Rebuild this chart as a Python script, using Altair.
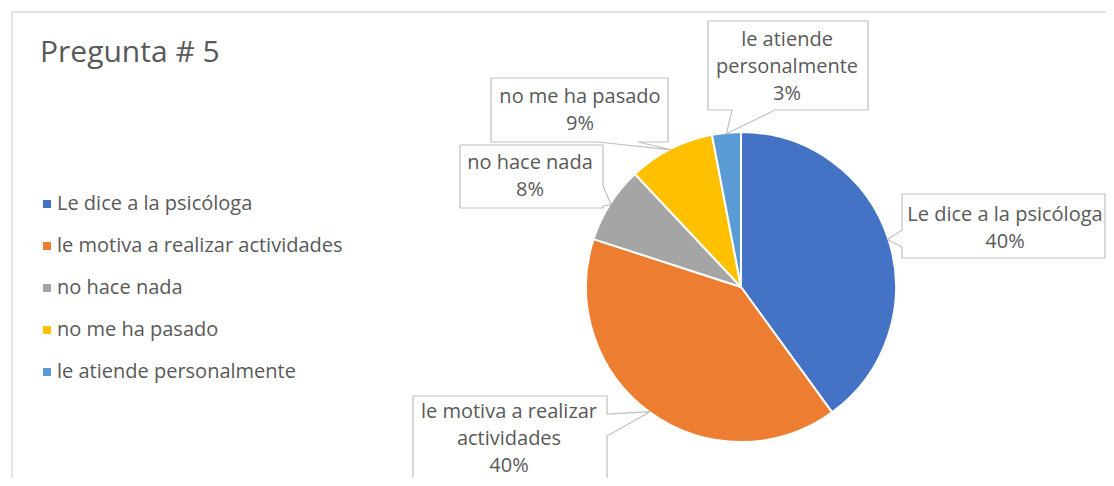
import altair as alt
import pandas as pd
import numpy as np

# ---- data ----
categories = [
    "Le dice a la psicóloga",
    "le motiva a realizar actividades",
    "no hace nada",
    "no me ha pasado",
    "le atiende personalmente",
]
values = [40, 40, 8, 9, 3]
label_text = [
    "Le dice a la psicóloga",
    "le motiva a realizar\nactividades",
    "no hace nada",
    "no me ha pasado",
    "le atiende\npersonalmente",
]
colors = ["#4472C4", "#ED7D31", "#A5A5A5", "#FFC000", "#5B9BD5"]

# ---- layout (chart pixel coords) ----
CX, CY, R = 733, 279, 155
FONT = "Open Sans"
TXT = "#595959"
# callout boxes: x0, x1, y0, y1, pointer side, base start, base end
boxes = [
    (894, 1097, 186, 250, "left", 222, 239),
    (405, 599, 388, 520, "right", 406, 428),
    (452, 595, 137, 200, "right", 178, 198),
    (483, 660, 70, 134, "bottom", 590, 630),
    (700, 860, 13, 102, "bottom", 724, 767),
]
# first-line centre of each callout text
text_pos = [(997, 207), (501, 404), (522, 155), (572, 89), (779, 32)]

df = pd.DataFrame({
    "cat": categories,
    "value": values,
    "order": list(range(len(categories))),
})

# callout label table
lab = pd.DataFrame({
    "cat": categories,
    "label": [f"{t}\n{v}%" for t, v in zip(label_text, values)],
    "lx": [p[0] for p in text_pos],
    "ly": [p[1] for p in text_pos],
})

# callout outlines, tip on the slice's mid-angle
total = sum(values)
cum = np.cumsum([0] + values)
rows = []
for i, (x0, x1, y0, y1, side, b1, b2) in enumerate(boxes):
    mid = (cum[i] + cum[i + 1]) / 2 / total * 2 * np.pi
    tx = CX + (R - 1) * np.sin(mid)
    ty = CY - (R - 1) * np.cos(mid)
    if side == "left":
        pts = [(x0, y0), (x1, y0), (x1, y1), (x0, y1), (x0, b2), (tx, ty), (x0, b1), (x0, y0)]
    elif side == "right":
        pts = [(x0, y0), (x1, y0), (x1, b1), (tx, ty), (x1, b2), (x1, y1), (x0, y1), (x0, y0)]
    else:
        pts = [(x0, y0), (x1, y0), (x1, y1), (b2, y1), (tx, ty), (b1, y1), (x0, y1), (x0, y0)]
    for k, (px, py) in enumerate(pts):
        rows.append({"cat": categories[i], "seq": k, "px": px, "py": py})
outline = pd.DataFrame(rows)

frame = alt.Chart(pd.DataFrame({"a": [0]})).mark_rect(
    fill="transparent", stroke="#D9D9D9", strokeWidth=1.5
).encode(x=alt.value(4), x2=alt.value(3000), y=alt.value(4), y2=alt.value(3000))

pie = alt.Chart(df).mark_arc(radius=R, stroke="white", strokeWidth=2).encode(
    theta=alt.Theta("value:Q", stack=True),
    color=alt.Color(
        "cat:N",
        scale=alt.Scale(domain=categories, range=colors),
        legend=alt.Legend(
            title=None,
            orient="none",
            legendX=29,
            legendY=186,
            symbolType="square",
            symbolSize=64,
            symbolStrokeWidth=0,
            labelFont=FONT,
            labelFontSize=20,
            labelColor=TXT,
            labelOffset=0,
            rowPadding=22,
            labelLimit=400,
        ),
    ),
    order=alt.Order("order:Q"),
    x=alt.value(CX),
    y=alt.value(CY),
)

callouts = alt.Chart(outline).mark_line(stroke="#BFBFBF", strokeWidth=1.2).encode(
    x=alt.X("px:Q", scale=None),
    y=alt.Y("py:Q", scale=None),
    detail="cat:N",
    order="seq:Q",
)

labels = alt.Chart(lab).mark_text(
    font=FONT, fontSize=20, color=TXT, lineBreak="\n", lineHeight=27,
    align="center", baseline="middle",
).encode(
    x=alt.X("lx:Q", scale=None),
    y=alt.Y("ly:Q", scale=None),
    text="label:N",
)

chart = alt.layer(frame, pie, callouts, labels).properties(
    width=1098,
    height=470,
    padding=0,
    autosize=alt.AutoSizeParams(type="none"),
    title=alt.TitleParams(
        text="Pregunta # 5",
        anchor="start",
        frame="group",
        orient="top",
        offset=0,
        dx=32,
        dy=84,
        baseline="alphabetic",
        font=FONT,
        fontSize=30,
        fontWeight="normal",
        color=TXT,
    ),
).configure_view(stroke=None)

chart.save("out.html", embed_options={"renderer": "svg", "actions": False})
